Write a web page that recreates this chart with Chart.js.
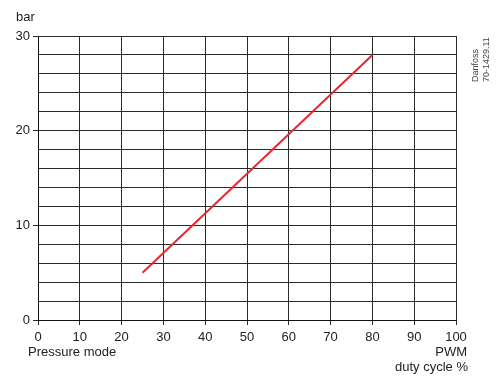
<!DOCTYPE html>
<html>
<head>
<meta charset="utf-8">
<script src="https://cdn.jsdelivr.net/npm/chart.js@4.4.0/dist/chart.umd.min.js"></script>
<style>
  body { margin: 0; background: #fff; }
  #wrap { width: 502px; height: 378px; position: relative; }
</style>
</head>
<body>
<div id="wrap"><canvas id="pwm-chart"></canvas></div>
<script>
// values
const dutyCycle = [25, 80]
const pressure = [5, 28]
const xTicks = [0, 10, 20, 30, 40, 50, 60, 70, 80, 90, 100]
const yLabels = [0, 10, 20, 30]

const font = "'Liberation Sans', Arial, sans-serif"

// extra texts around the plot
const extraText = {
    id: 'extraText',
    afterDraw(chart) {
        const ctx = chart.ctx
        ctx.save()
        ctx.fillStyle = '#222'
        ctx.font = '13px ' + font
        ctx.textBaseline = 'alphabetic'
        ctx.textAlign = 'left'
        ctx.fillText('bar', 16, 21)
        ctx.fillText('Pressure mode', 28, 356)
        ctx.textAlign = 'right'
        ctx.fillText('PWM', 467, 356)
        ctx.fillText('duty cycle %', 468, 371)

        ctx.fillStyle = '#444'
        ctx.font = '9px ' + font
        ctx.textAlign = 'left'
        ctx.translate(478, 82)
        ctx.rotate(-Math.PI / 2)
        ctx.fillText('Danfoss', 0, 0)
        ctx.fillText('70-1429.11', 0, 11)
        ctx.restore()
    }
}

new Chart(document.getElementById('pwm-chart').getContext('2d'), {
    type: 'scatter',
    data: {
        datasets: [{
            data: dutyCycle.map((x, i) => ({ x: x, y: pressure[i] })),
            showLine: true,
            borderColor: '#e8262d',
            borderWidth: 2,
            pointRadius: 0,
            fill: false
        }]
    },
    options: {
        responsive: true,
        maintainAspectRatio: false,
        animation: false,
        devicePixelRatio: 1,
        layout: { padding: { top: 36, right: 46, left: 0, bottom: 0 } },
        plugins: {
            legend: { display: false },
            tooltip: { enabled: false }
        },
        scales: {
            x: {
                type: 'linear',
                min: 0,
                max: 100,
                afterBuildTicks: scale => { scale.ticks = xTicks.map(v => ({ value: v })) },
                afterFit: scale => { scale.height = 58 },
                grid: { color: '#2a2a2a', lineWidth: 1, tickLength: 5, tickColor: '#2a2a2a' },
                border: { color: '#111', width: 1 },
                ticks: {
                    color: '#222',
                    font: { family: font, size: 13 },
                    padding: 5,
                    maxRotation: 0,
                    autoSkip: false
                }
            },
            y: {
                min: 0,
                max: 30,
                afterFit: scale => { scale.width = 38 },
                grid: {
                    color: '#2a2a2a',
                    lineWidth: 1,
                    tickLength: 5,
                    tickColor: c => yLabels.includes(c.tick.value) ? '#2a2a2a' : 'rgba(0,0,0,0)'
                },
                border: { color: '#111', width: 1 },
                ticks: {
                    stepSize: 2,
                    autoSkip: false,
                    color: '#222',
                    font: { family: font, size: 13 },
                    padding: 3,
                    callback: v => yLabels.includes(v) ? v : ''
                }
            }
        }
    },
    plugins: [extraText]
})
</script>
</body>
</html>
